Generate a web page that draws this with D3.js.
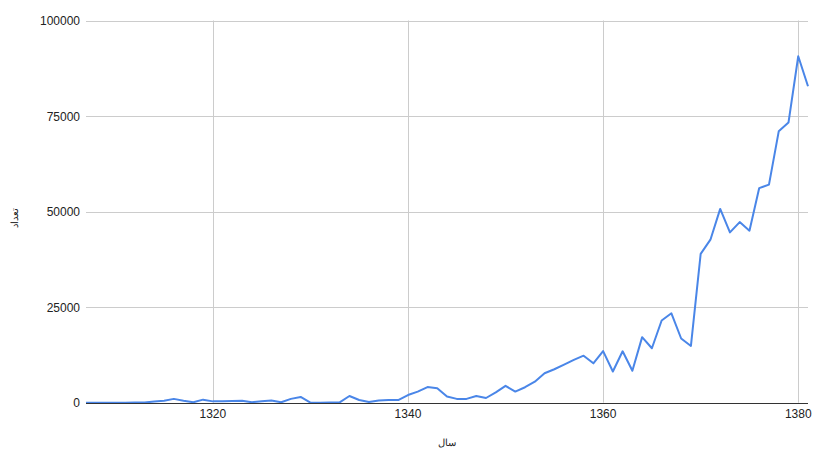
<!DOCTYPE html>
<html>
<head>
<meta charset="utf-8">
<script src="https://cdn.jsdelivr.net/npm/d3@7"></script>
<style>
  html, body { margin: 0; padding: 0; background: #fff; }
  svg { display: block; }
  text { font-family: "Liberation Sans", Arial, sans-serif; }
</style>
</head>
<body>
<svg id="chart" width="827" height="474"></svg>
<script>
const years = d3.range(1307, 1382);
const values = [
  0, 0, 0, 0, 0, 20, 50, 300, 500, 1000,
  500, 100, 800, 350, 350, 450, 500, 100, 400, 600,
  100, 1000, 1500, 0, 0, 50, 100, 1750, 700, 200,
  600, 700, 700, 2000, 2900, 4100, 3800, 1600, 1000, 1000,
  1750, 1230, 2700, 4400, 2900, 4050, 5500, 7700, 8750, 9950,
  11200, 12300, 10300, 13500, 8150, 13450, 8350, 17150, 14250, 21500,
  23400, 16800, 14850, 38950, 42650, 50700, 44550, 47250, 45000, 56150,
  57050, 71000, 73300, 90650, 82800
];
const yTicks = [0, 25000, 50000, 75000, 100000];
const xTicks = [1320, 1340, 1360, 1380];
const xTitle = "سال";
const yTitle = "تعداد";

const data = years.map((yr, i) => ({ year: yr, value: values[i] }));

const svg = d3.select("#chart");
const mLeft = 86, mRight = 808, mTop = 20.5, mBottom = 402.7;

const x = d3.scaleLinear().domain([1307, 1381]).range([mLeft, mRight]);
const y = d3.scaleLinear().domain([0, 100000]).range([mBottom, mTop]);

// horizontal gridlines
svg.append("g").selectAll("line").data(yTicks.filter(d => d > 0)).join("line")
  .attr("x1", mLeft).attr("x2", mRight)
  .attr("y1", d => Math.round(y(d)) + 0.5).attr("y2", d => Math.round(y(d)) + 0.5)
  .attr("stroke", "#cccccc").attr("stroke-width", 1);

// vertical gridlines
svg.append("g").selectAll("line").data(xTicks).join("line")
  .attr("x1", d => Math.round(x(d)) + 0.5).attr("x2", d => Math.round(x(d)) + 0.5)
  .attr("y1", mTop).attr("y2", mBottom)
  .attr("stroke", "#cccccc").attr("stroke-width", 1);

// y tick labels
svg.append("g").selectAll("text").data(yTicks).join("text")
  .attr("x", 80).attr("y", d => y(d) + 4.5)
  .attr("text-anchor", "end")
  .attr("font-size", 12).attr("fill", "#222")
  .text(d => d);

// x tick labels
svg.append("g").selectAll("text").data(xTicks).join("text")
  .attr("x", d => x(d)).attr("y", 418)
  .attr("text-anchor", "middle")
  .attr("font-size", 12).attr("fill", "#222")
  .text(d => d);

// line
const line = d3.line().x(d => x(d.year)).y(d => y(d.value));
svg.append("path").datum(data)
  .attr("d", line)
  .attr("fill", "none")
  .attr("stroke", "#4a86e8")
  .attr("stroke-width", 2)
  .attr("stroke-linejoin", "round");

// baseline
svg.append("line")
  .attr("x1", mLeft).attr("x2", mRight)
  .attr("y1", Math.round(mBottom) + 0.5).attr("y2", Math.round(mBottom) + 0.5)
  .attr("stroke", "#333333").attr("stroke-width", 1);

// axis titles
svg.append("text")
  .attr("x", 447).attr("y", 446)
  .attr("text-anchor", "middle")
  .attr("font-size", 10).attr("fill", "#222")
  .attr("font-family", "DejaVu Sans, sans-serif")
  .text(xTitle);

svg.append("text")
  .attr("transform", "translate(18,218) rotate(-90)")
  .attr("text-anchor", "middle")
  .attr("font-size", 10).attr("fill", "#222")
  .attr("font-family", "DejaVu Sans, sans-serif")
  .text(yTitle);
</script>
</body>
</html>
